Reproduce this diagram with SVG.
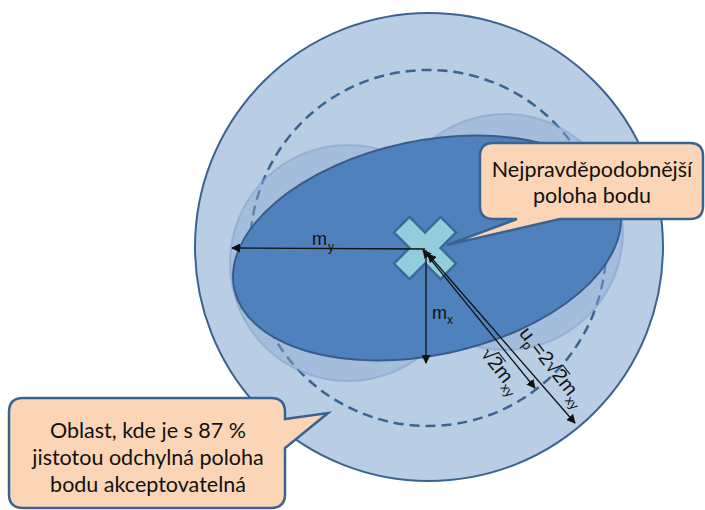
<svg xmlns="http://www.w3.org/2000/svg" width="705" height="510" viewBox="0 0 705 510">
<defs>
<style>
.big{fill:#B9CDE5;stroke:#3B6391;stroke-width:2}
.dash{fill:none;stroke:#3B6391;stroke-width:2.5;stroke-dasharray:10 6}
.lite{fill:#8EABD3;fill-opacity:0.45;stroke:#7D9DCB;stroke-opacity:0.5;stroke-width:2}
.ell{fill:#4F81BD;stroke:#385D8A;stroke-width:2}
.cross{fill:#93CDDD;stroke:#3B6A98;stroke-width:2.5}
.callout{fill:#FBD5B5;stroke:#3B6391;stroke-width:2.5}
.ctext{font-family:Lato,"Liberation Sans",sans-serif;font-size:21.5px;fill:#111;text-anchor:middle}
.lbl{font-family:"Liberation Sans",Arial,sans-serif;font-size:18px;fill:#111}
.sub{font-family:"Liberation Sans",Arial,sans-serif;font-size:12px;fill:#111}
.rl{font-family:"Liberation Sans",Arial,sans-serif;font-size:20px;fill:#111}
.rs{font-family:"Liberation Sans",Arial,sans-serif;font-size:13px;fill:#111}
.arr{stroke:#111;stroke-width:1.3;fill:none}
</style>
<marker id="ah" viewBox="0 0 10 10" refX="9" refY="5" markerWidth="9" markerHeight="9" markerUnits="userSpaceOnUse" orient="auto-start-reverse">
<path d="M0,0 L10,5 L0,10 Z" fill="#111"/>
</marker>
</defs>
<g id="outer-circle"><circle class="big" cx="429" cy="247" r="234"/></g>
<g id="dashed-circle"><circle class="dash" cx="428" cy="248" r="178"/></g>
<g id="light-circles">
<circle class="lite" cx="348" cy="263" r="118"/>
<circle class="lite" cx="505" cy="232" r="118"/>
</g>
<g id="ellipse"><ellipse class="ell" cx="427" cy="248" rx="197" ry="107" transform="rotate(-12 427 248)"/></g>
<g id="cross"><path class="cross" transform="translate(425 248) rotate(45)" d="M-11,-33 H11 V-11 H33 V11 H11 V33 H-11 V11 H-33 V-11 H-11 Z"/></g>
<g id="callout-top">
<path class="callout" d="M493,143 H690 Q703,143 703,156 V206 Q703,219 690,219 H560 L447,245 L517,219 H493 Q480,219 480,206 V156 Q480,143 493,143 Z"/>
<text class="ctext" x="592" y="177">Nejpravděpodobnější</text>
<text class="ctext" x="592" y="203">poloha bodu</text>
</g>
<g id="callout-bottom">
<path class="callout" d="M23,398 H271 Q285,398 285,412 V419 L328,413 L285,448 V494 Q285,508 271,508 H23 Q9,508 9,494 V412 Q9,398 23,398 Z"/>
<text class="ctext" x="148" y="438">Oblast, kde je s 87 %</text>
<text class="ctext" x="148" y="465">jistotou odchylná poloha</text>
<text class="ctext" x="148" y="492">bodu akceptovatelná</text>
</g>
<g id="connectors">
<line class="arr" x1="425" y1="249" x2="232" y2="248" marker-end="url(#ah)"/>
<line class="arr" x1="426" y1="250" x2="426" y2="363" marker-end="url(#ah)"/>
<line class="arr" x1="423" y1="250" x2="535" y2="388" marker-start="url(#ah)" marker-end="url(#ah)"/>
<line class="arr" x1="428" y1="254" x2="575" y2="423" marker-start="url(#ah)" marker-end="url(#ah)"/>
</g>
<g id="labels">
<text class="lbl" x="312" y="245">m</text><text class="sub" x="328" y="251">y</text>
<text class="lbl" x="432" y="319">m</text><text class="sub" x="447" y="324">x</text>
<g transform="translate(518.5 333.5) rotate(52)">
<text class="rl" x="0" y="0">u</text>
<text class="rs" x="11" y="5">p</text>
<text class="rl" x="19" y="0">=2√</text>
<text class="rl" x="53" y="0">2</text>
<line x1="52" y1="-15.5" x2="64" y2="-15.5" stroke="#111" stroke-width="1"/>
<text class="rl" x="64" y="0">m</text>
<text class="rs" x="81" y="5">xy</text>
</g>
<g transform="translate(480 354) rotate(52)">
<text class="rl" x="0" y="0">√</text>
<text class="rl" x="11" y="0">2</text>
<line x1="10" y1="-15.5" x2="22" y2="-15.5" stroke="#111" stroke-width="1"/>
<text class="rl" x="22" y="0">m</text>
<text class="rs" x="39" y="5">xy</text>
</g>
</g>
</svg>
